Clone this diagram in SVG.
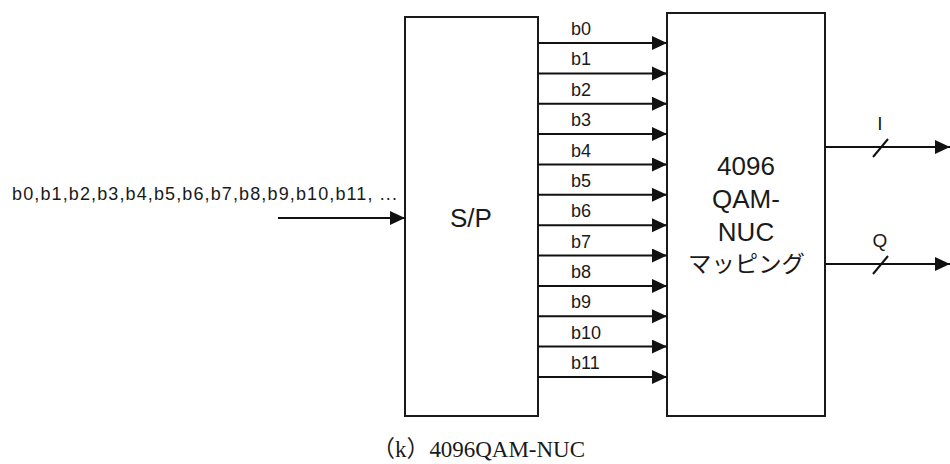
<svg xmlns="http://www.w3.org/2000/svg" width="950" height="464" viewBox="0 0 950 464">
<style>
.box{fill:#fff;stroke:#1a1a1a;stroke-width:2}
.ln{stroke:#111;stroke-width:2;fill:none}
.t{font-family:"Liberation Sans",Arial,sans-serif;fill:#1a1a1a}
.lbl{font-size:18px}
.big{font-size:26px;text-anchor:middle}
.cap{font-family:"Liberation Serif","Noto Sans CJK JP",serif;font-size:23px;fill:#1a1a1a}
</style>
<defs>
<marker id="ah" markerUnits="userSpaceOnUse" markerWidth="16" markerHeight="16" refX="15" refY="7" orient="auto">
<path d="M0,0 L15,7 L0,14 Z" fill="#111"/>
</marker>
</defs>
<rect width="950" height="464" fill="#fff"/>
<g id="input-label"><text class="t lbl" x="12" y="200" textLength="385" lengthAdjust="spacing">b0,b1,b2,b3,b4,b5,b6,b7,b8,b9,b10,b11, ...</text></g>
<g id="sp">
<rect class="box" x="405" y="17" width="133" height="399"/>
<text class="t big" x="471" y="227">S/P</text>
</g>
<g id="mapper">
<rect class="box" x="667" y="13" width="158" height="403"/>
<text class="t big" x="746" y="175">4096</text>
<text class="t big" x="746" y="208">QAM-</text>
<text class="t big" x="746" y="241">NUC</text>
<text class="t" x="688" y="272" font-size="23" textLength="117" lengthAdjust="spacingAndGlyphs" style="font-family:'Liberation Sans','Noto Sans CJK JP',sans-serif">マッピング</text>
</g>
<g id="connectors">
<line class="ln" x1="278" y1="218" x2="405" y2="218" marker-end="url(#ah)"/>
<line class="ln" x1="538" y1="43" x2="667" y2="43" marker-end="url(#ah)"/>
<line class="ln" x1="538" y1="73.4" x2="667" y2="73.4" marker-end="url(#ah)"/>
<line class="ln" x1="538" y1="103.7" x2="667" y2="103.7" marker-end="url(#ah)"/>
<line class="ln" x1="538" y1="134.1" x2="667" y2="134.1" marker-end="url(#ah)"/>
<line class="ln" x1="538" y1="164.5" x2="667" y2="164.5" marker-end="url(#ah)"/>
<line class="ln" x1="538" y1="194.8" x2="667" y2="194.8" marker-end="url(#ah)"/>
<line class="ln" x1="538" y1="225.2" x2="667" y2="225.2" marker-end="url(#ah)"/>
<line class="ln" x1="538" y1="255.5" x2="667" y2="255.5" marker-end="url(#ah)"/>
<line class="ln" x1="538" y1="285.9" x2="667" y2="285.9" marker-end="url(#ah)"/>
<line class="ln" x1="538" y1="316.3" x2="667" y2="316.3" marker-end="url(#ah)"/>
<line class="ln" x1="538" y1="346.6" x2="667" y2="346.6" marker-end="url(#ah)"/>
<line class="ln" x1="538" y1="377" x2="667" y2="377" marker-end="url(#ah)"/>
<line class="ln" x1="825" y1="147" x2="950" y2="147" marker-end="url(#ah)"/>
<line class="ln" x1="873" y1="157" x2="888" y2="139"/>
<line class="ln" x1="825" y1="264" x2="950" y2="264" marker-end="url(#ah)"/>
<line class="ln" x1="873" y1="274" x2="888" y2="256"/>
<text class="t lbl" x="571" y="35">b0</text>
<text class="t lbl" x="571" y="65.4">b1</text>
<text class="t lbl" x="571" y="95.7">b2</text>
<text class="t lbl" x="571" y="126.1">b3</text>
<text class="t lbl" x="571" y="156.5">b4</text>
<text class="t lbl" x="571" y="186.8">b5</text>
<text class="t lbl" x="571" y="217.2">b6</text>
<text class="t lbl" x="571" y="247.5">b7</text>
<text class="t lbl" x="571" y="277.9">b8</text>
<text class="t lbl" x="571" y="308.3">b9</text>
<text class="t lbl" x="571" y="338.6">b10</text>
<text class="t lbl" x="571" y="369">b11</text>
<text class="t" font-size="19" x="880" y="130" text-anchor="middle">I</text>
<text class="t" font-size="19" x="880" y="247" text-anchor="middle">Q</text>
</g>
<g id="caption"><text class="cap" x="372" y="457" textLength="213" lengthAdjust="spacing">（k）4096QAM-NUC</text></g>
</svg>
